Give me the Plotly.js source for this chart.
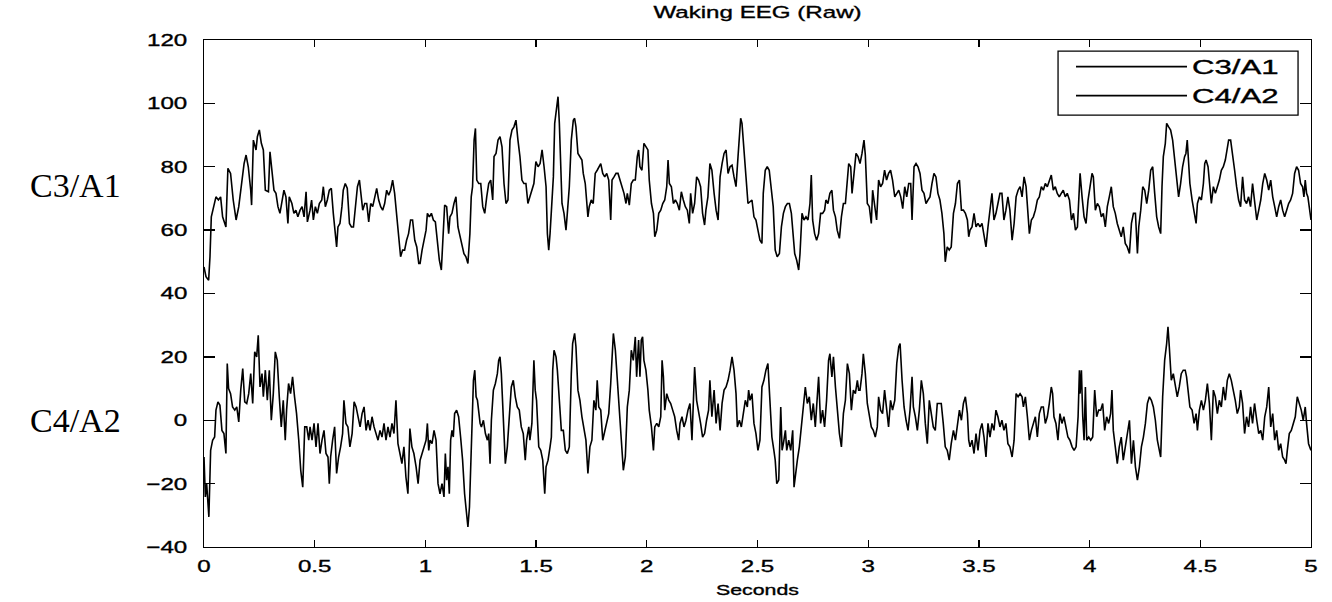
<!DOCTYPE html>
<html>
<head>
<meta charset="utf-8">
<script src="https://cdn.plot.ly/plotly-3.0.1.min.js"></script>
<style>
html,body{margin:0;padding:0;background:#fff;}
#chart{width:1332px;height:602px;}
</style>
</head>
<body>
<div id="chart"></div>
<script>
// Time (seconds) and amplitude of the C3/A1 channel
var tC3 = [
0,.009,.021,.027,.033,.045,.054,.065,.075,.084,.099,.108,.12,.132,.145,.157,.169,.181,.19,.2,.211,.215,.223,.235,.241,.25,.259,.268,.277,.291,.298,.307,.316,.325,.334,.343,.352,.361,.37,.379,.385,.397,.406,.415,.424,.434,.443,.452,.461,.467,
.479,.486,.494,.503,.512,.521,.532,.539,.548,.557,.566,.575,.584,.593,.599,.605,.614,.623,.629,.638,.647,.657,.666,.675,.684,.693,.702,.708,.717,.726,.735,.744,.753,.762,.771,.78,.789,.798,.807,.816,.825,.834,.843,.852,.861,.87,.879,.888,.897,.906,.915,.924,.933,.942,.952,.961,.97,
.976,.985,.994,1.003,1.009,1.018,1.027,1.036,1.045,1.054,1.063,1.072,1.081,1.087,1.096,1.105,1.111,1.12,1.129,1.138,1.147,1.156,1.165,1.174,1.183,1.192,1.201,1.207,1.213,1.22,1.226,1.232,1.241,1.25,1.259,1.268,1.277,1.286,1.295,1.304,1.31,1.319,1.328,1.337,1.346,1.355,1.364,1.373,1.382,1.391,1.4,1.409,1.418,1.427,1.436,1.445,1.454,1.463,
1.472,1.481,1.49,1.499,1.509,1.518,1.527,1.536,1.545,1.551,1.557,1.563,1.572,1.578,1.584,1.593,1.599,1.605,1.611,1.617,1.626,1.635,1.641,1.65,1.659,1.668,1.674,1.68,1.689,1.698,1.707,1.713,1.722,1.728,1.734,1.74,1.749,1.758,1.767,1.776,1.786,1.792,1.801,1.81,1.819,1.828,1.837,1.843,1.852,1.861,1.87,1.879,1.888,1.897,1.906,1.912,1.921,1.93,1.939,1.948,1.957,1.963,
1.969,1.978,1.987,1.996,2.005,2.011,2.021,2.03,2.036,2.045,2.054,2.063,2.072,2.081,2.09,2.096,2.102,2.111,2.12,2.129,2.138,2.147,2.156,2.165,2.174,2.183,2.192,2.198,2.207,2.216,2.225,2.234,2.243,2.252,2.261,2.267,2.276,2.285,2.294,2.304,2.313,2.322,2.331,2.34,2.349,2.358,2.367,2.376,2.385,2.394,2.403,2.412,2.418,2.424,2.43,2.439,2.448,2.457,
2.466,2.475,2.484,2.493,2.502,2.511,2.52,2.526,2.535,2.544,2.553,2.562,2.571,2.58,2.589,2.599,2.608,2.617,2.626,2.635,2.644,2.653,2.659,2.668,2.677,2.686,2.692,2.701,2.71,2.719,2.728,2.737,2.743,2.749,2.758,2.767,2.776,2.785,2.794,2.803,2.809,2.818,2.827,2.836,2.843,2.852,2.86,2.87,2.879,2.888,2.897,2.906,2.912,2.921,2.927,2.936,2.945,2.954,
2.963,2.972,2.981,2.987,2.996,3.005,3.014,3.02,3.029,3.038,3.047,3.056,3.065,3.074,3.083,3.092,3.101,3.11,3.12,3.129,3.138,3.147,3.156,3.165,3.174,3.183,3.192,3.198,3.207,3.216,3.225,3.234,3.243,3.252,3.261,3.27,3.279,3.288,3.297,3.306,3.315,3.324,3.333,3.342,3.348,3.357,3.366,3.375,3.385,3.394,3.403,3.412,3.421,3.43,3.439,3.448,3.454,
3.46,3.469,3.478,3.487,3.496,3.505,3.514,3.523,3.532,3.541,3.55,3.559,3.568,3.577,3.586,3.595,3.604,3.613,3.622,3.631,3.64,3.65,3.659,3.668,3.677,3.686,3.695,3.704,3.713,3.722,3.728,3.737,3.746,3.755,3.764,3.773,3.782,3.791,3.8,3.809,3.818,3.827,3.836,3.845,3.854,3.863,3.872,3.881,3.89,3.899,3.909,3.918,3.927,3.936,3.945,3.951,
3.957,3.966,3.975,3.984,3.993,4.002,4.011,4.017,4.026,4.035,4.044,4.053,4.062,4.071,4.08,4.089,4.098,4.107,4.116,4.125,4.134,4.143,4.152,4.161,4.17,4.18,4.189,4.198,4.207,4.216,4.222,4.231,4.24,4.249,4.258,4.267,4.276,4.285,4.294,4.303,4.312,4.321,4.327,4.333,4.342,4.348,4.357,4.366,4.375,4.384,4.393,4.402,4.411,4.42,4.429,4.435,4.441,4.447,
4.453,4.463,4.472,4.481,4.487,4.496,4.505,4.514,4.52,4.526,4.535,4.544,4.55,4.559,4.568,4.577,4.586,4.595,4.604,4.613,4.622,4.628,4.637,4.646,4.655,4.664,4.673,4.682,4.691,4.7,4.709,4.718,4.727,4.736,4.745,4.755,4.764,4.773,4.782,4.791,4.8,4.809,4.818,4.827,4.836,4.845,4.854,4.863,4.872,4.881,4.89,4.899,4.908,4.917,4.926,4.935,4.944,4.953,4.962,4.968,4.974,4.98,4.986,4.993,5
];
var vC3 = [
48.4,45.3,44.2,51.6,64.2,68.4,70.5,69.5,70.5,64.2,61,79.5,77.9,69.5,63.2,67.4,73.7,81,83.7,80,72.6,67.9,88.4,85.3,89.5,91.6,87.4,85.3,72.6,72.1,84.7,79,72.6,71.6,67.4,65.3,69.5,72.6,70.5,62.1,70.5,68.4,65.3,66.3,64.2,66.3,67.4,64.2,72.1,62.6,
66.3,69.5,63.2,67.4,65.3,68.4,69.5,73.7,67.4,69.5,72.6,73.2,65.3,58.9,54.7,61,62.1,67.4,72.6,74.7,73.2,62.1,61,61,68.4,73.7,75.8,71.6,66.3,68.4,68.4,62.6,68.4,67.4,70.5,73.2,69.5,67.4,66.3,68.4,72.6,71,72.6,75.8,71.6,65.3,57.9,51.6,53.7,53.7,56.8,58.9,63.2,63.2,56.8,54.7,49.5,
49.5,53.7,56.8,60,65.3,64.2,65.3,63.2,62.6,55.8,50.5,47.4,61,67.9,67.4,58.9,64.2,65.3,68.4,70.5,61,57.9,55.8,52.6,51.6,49.5,58.9,70.5,73.7,88.4,92.1,75.8,74.7,74.7,67.4,65.3,70.5,74.7,75.8,69.5,83.2,84.2,88.4,89.5,86.3,74.7,68.4,69.5,88.4,91.6,92.6,94.7,88.4,83.2,75.8,74.7,74.7,68.4,
70.5,72.6,74.7,81.6,80,81,85.3,80,73.7,58.9,53.7,58.9,69.5,76.8,93.7,100,102.1,93.7,83.2,68.4,65.3,60,65.3,73.7,88.4,94.7,95.3,92.6,84.2,83.2,82.1,77.9,74.7,69.5,64.2,67.4,69.5,68.4,77.9,78.9,80,81,77.9,76.8,77.9,75.8,63.2,75.8,76.8,77.9,77.9,75.8,73.7,71.6,68.4,71.6,67.9,74.7,75.8,75.8,83.2,85.3,
80,78.9,87.4,86.3,85.3,75.8,68.4,65.3,57.9,60,65.3,66.3,68.4,69.5,73.7,82.1,74.7,73.7,68.4,69.5,68.4,66.3,72.1,69.5,67.4,66.3,62.1,71.6,65.3,68.4,76.8,75.8,73.7,65.3,61.6,66.3,70.5,81,78.9,71.6,66.3,63.2,76.8,81,84.2,85.3,77.9,80,80.5,76.8,73.7,83.2,90.5,95.3,93.7,86.3,76.8,68.4,
68.9,69.5,64.2,63.2,60,56.8,55.8,71.6,78.9,80,78.9,72.6,67.4,53.7,51.6,52.6,61,65.3,67.4,68.4,68.4,65.3,60,52.6,50.5,47.4,52.6,65.3,63.2,64.2,63.2,68.4,77.4,63.2,58.9,56.8,58.9,65.3,65.3,66.3,69.5,68.4,71.6,72.6,66.3,64.2,60,57.4,64.2,68.4,68.4,75.8,81,80,71.6,77.9,84.2,83.2,
81,84.2,88.4,83.7,68.4,67.4,62.1,72.6,67.4,63.2,75.8,73.7,74.7,78.9,75.8,77.9,78.9,75.8,70.5,71.6,72.6,70.5,66.8,73.7,70.5,74.7,74.7,63.2,80,81,80,77.9,72.6,71.6,68.4,69.5,70.5,74.7,77.9,76.8,71.6,69.5,65.3,58.9,50,54.7,53.7,54.7,65.3,68.4,74.7,75.8,66.3,66.3,65.3,63.2,57.9,
60,61,65.3,61,62.1,61,62.1,58.9,54.7,61,67.4,71.6,63.2,65.3,68.4,71.6,71.6,63.2,66.3,70.5,66.3,56.8,62.1,70.5,72.6,73.7,70.5,76.8,73.7,63.2,58.9,63.2,64.2,66.3,69.5,70.5,73.7,72.6,74.7,73.7,75.8,77.4,72.6,73.7,71.6,70.5,71.6,72.6,70.5,71.6,69.5,63.2,65.3,60,61,71.6,
77.9,70.5,64.2,62.1,69.5,73.7,77.9,76.8,66.3,68.4,67.4,64.2,65.3,61,67.4,70.5,73.7,67.4,65.3,62.1,60,57.9,61,55.8,54.7,52.6,62.1,65.3,65.3,52.6,61,66.3,73.7,72.6,68.4,72.6,78.9,80,71.6,64.2,61,58.9,73.7,83.2,87.4,93.7,92.6,91.6,88.4,82.1,75.8,70.5,74.7,80,83.2,84.2,88.4,81,
74.7,69.5,66.3,62.1,68.4,70.5,69.5,74.7,81,82.1,80,72.6,68.4,73.7,71.6,73.7,75.8,78.9,80,82.1,85.3,88.4,88.4,84.2,78.9,73.7,69.5,67.4,76.8,69.5,68.4,70.5,67.4,74.7,68.4,63.2,66.3,69.5,74.7,77.9,75.8,72.6,75.8,70.5,67.4,64.2,67.4,69.5,66.3,64.2,66.3,68.4,69.5,71.6,77.9,80,78.9,74.7,73.7,70.5,75.8,71.6,70.5,67.4,63.2
];
// Time (seconds) and amplitude of the C4/A2 channel
var tC4 = [
0,.006,.012,.018,.022,.03,.039,.048,.054,.063,.072,.081,.09,.099,.105,.111,.12,.129,.139,.148,.157,.166,.175,.184,.193,.202,.211,.22,.229,.238,.245,.253,.262,.268,.277,.286,.295,.304,.313,.322,.331,.34,.349,.358,.367,.373,.382,.391,.4,.409,.418,.428,.437,.446,.455,.464,.473,
.479,.488,.497,.506,.515,.524,.533,.542,.551,.56,.566,.572,.581,.59,.599,.608,.617,.626,.632,.641,.65,.659,.669,.678,.687,.696,.705,.714,.723,.732,.741,.75,.759,.768,.777,.786,.795,.804,.813,.822,.831,.84,.849,.858,.867,.876,.885,.894,.903,.912,.921,.93,.939,.948,.958,.967,
.976,.985,.994,1.003,1.009,1.015,1.021,1.03,1.039,1.048,1.057,1.066,1.075,1.084,1.09,1.096,1.102,1.108,1.114,1.12,1.126,1.132,1.141,1.15,1.159,1.168,1.177,1.186,1.192,1.199,1.205,1.211,1.217,1.223,1.229,1.235,1.241,1.247,1.253,1.262,1.271,1.28,1.286,1.292,1.298,1.307,1.316,1.325,1.331,1.337,1.343,1.352,1.361,1.37,1.379,1.388,1.397,1.406,1.415,1.424,1.433,1.442,1.451,1.457,1.467,
1.472,1.481,1.49,1.496,1.502,1.512,1.521,1.53,1.539,1.545,1.554,1.563,1.569,1.575,1.581,1.59,1.596,1.605,1.614,1.623,1.632,1.641,1.65,1.659,1.665,1.674,1.68,1.689,1.698,1.707,1.716,1.725,1.734,1.743,1.752,1.761,1.77,1.776,1.783,1.792,1.801,1.81,1.819,1.828,1.837,1.843,1.849,1.858,1.867,1.876,1.885,1.894,1.903,1.912,1.921,1.93,1.939,1.948,1.954,1.963,
1.969,1.975,1.981,1.987,1.996,2.005,2.011,2.021,2.03,2.036,2.045,2.054,2.063,2.069,2.075,2.081,2.09,2.099,2.108,2.117,2.126,2.135,2.144,2.15,2.159,2.168,2.177,2.186,2.195,2.204,2.21,2.216,2.225,2.234,2.243,2.252,2.261,2.27,2.279,2.285,2.294,2.304,2.313,2.322,2.331,2.34,2.349,2.358,2.367,2.376,2.385,2.394,2.403,2.409,2.418,2.427,2.436,2.445,2.454,2.46,
2.466,2.475,2.484,2.493,2.502,2.511,2.52,2.529,2.538,2.547,2.556,2.565,2.574,2.58,2.587,2.596,2.605,2.611,2.617,2.626,2.632,2.641,2.65,2.659,2.665,2.671,2.68,2.689,2.698,2.707,2.716,2.725,2.734,2.743,2.752,2.761,2.767,2.776,2.785,2.794,2.803,2.812,2.821,2.827,2.836,2.843,2.852,2.86,2.87,2.879,2.888,2.897,2.906,2.915,2.924,2.933,2.942,2.951,2.957,
2.963,2.972,2.978,2.987,2.996,3.005,3.014,3.023,3.032,3.041,3.047,3.056,3.065,3.074,3.083,3.092,3.101,3.11,3.12,3.129,3.138,3.144,3.153,3.162,3.171,3.18,3.189,3.198,3.204,3.213,3.222,3.231,3.24,3.249,3.258,3.267,3.276,3.285,3.294,3.303,3.312,3.321,3.33,3.339,3.348,3.357,3.366,3.375,3.385,3.394,3.403,3.412,3.421,3.43,3.439,3.448,3.454,
3.46,3.469,3.478,3.487,3.496,3.505,3.514,3.523,3.532,3.541,3.55,3.559,3.568,3.577,3.586,3.595,3.604,3.613,3.622,3.631,3.64,3.65,3.659,3.668,3.677,3.686,3.695,3.701,3.71,3.719,3.728,3.737,3.746,3.755,3.764,3.773,3.782,3.791,3.8,3.809,3.818,3.827,3.833,3.839,3.848,3.857,3.866,3.875,3.884,3.893,3.902,3.911,3.921,3.93,3.939,3.948,3.954,
3.957,3.963,3.969,3.975,3.981,3.987,3.996,4.005,4.014,4.023,4.032,4.041,4.05,4.059,4.068,4.077,4.086,4.095,4.101,4.107,4.116,4.125,4.134,4.143,4.152,4.161,4.17,4.18,4.189,4.198,4.207,4.216,4.225,4.234,4.243,4.252,4.261,4.27,4.279,4.288,4.297,4.306,4.315,4.321,4.33,4.339,4.348,4.354,4.36,4.369,4.378,4.387,4.396,4.405,4.414,4.423,4.432,4.438,4.447,
4.453,4.463,4.472,4.481,4.487,4.496,4.505,4.514,4.523,4.532,4.541,4.55,4.559,4.568,4.577,4.586,4.595,4.604,4.613,4.622,4.631,4.64,4.649,4.658,4.667,4.676,4.682,4.691,4.7,4.709,4.718,4.727,4.736,4.745,4.755,4.764,4.773,4.782,4.791,4.8,4.809,4.818,4.827,4.836,4.845,4.854,4.863,4.872,4.881,4.887,4.893,4.902,4.911,4.92,4.929,4.938,4.947,4.956,4.965,4.974,4.98,4.989,5
];
var vC4 = [
-11.6,-24.2,-20,-25.3,-30.5,-9.5,-6.3,-5.3,3.2,5.8,4.7,-3.2,-4.2,-10.5,17.9,10,8.4,4.2,3.2,4.2,-0.5,9.5,16.3,5.8,5.3,8.4,14.7,5.3,21.6,20,26.8,10.5,14.7,7.4,15.8,6.3,15.8,0,8.4,21.6,18.9,7.4,-2.1,6.3,-6.3,3.2,11.6,8.4,13.7,7.4,2.1,-6.3,-15.8,-21.1,-2.1,-2.1,-6.3,
-2.1,-6.3,-1,-8.4,-1,-10.5,-6.3,-3.2,-10.5,-11.6,-20,-11.6,-6.3,-2.1,-16.8,-11.6,-8.4,-4.2,6.3,-1,-2.1,-8.4,-4.2,5.8,4.2,1.1,-2.1,2.1,4.2,-3.2,0,-3.2,1.1,-2.1,-4.2,-6.3,-3.2,-5.3,-1,-6.3,-2.1,-5.3,-1,-4.2,6.3,-7.4,-10.5,-13.7,-8.4,-17.9,-23.2,-2.6,-8.4,-10.5,-14.7,-20,
-12.6,-10.5,-8.4,-6.3,-1,-9.5,-6.3,-7.4,-3.2,-6.3,-20,-23.2,-20,-24.2,-10.5,-18.9,-14.7,-23.2,-6.3,-3.2,-5.3,2.1,3.2,1.1,-5.3,-12.6,-23.2,-29.5,-33.7,-27.4,-14.7,0,12.6,15.8,7.4,6.3,3.2,-1,-2.1,0,-4.2,-6.3,-4.2,-13.7,0,9.5,11.6,14.7,18.9,20,14.7,-1,-13.7,-8.4,2.1,10.5,12.6,7.4,4.2,3.2,-2.1,-4.2,-12.6,-6.3,-2.1,
-6.3,-1,18.9,9.5,6.3,-8.4,-9.5,-12.6,-23.2,-14.7,-12.6,-8.4,-5.3,15.8,22.1,20,15.8,6.3,-3.2,-3.2,-9.5,-10.5,-8.4,14.7,24.2,27.4,23.2,9.5,6.3,1.1,-2.1,-6.3,-16.8,-8.4,-6.3,6.3,3.2,12.6,4.2,3.2,-6.3,-3.2,-1,2.1,11.6,21,27.4,22.1,13.7,4.2,-6.3,-15.8,-11.6,4.2,9.5,22.1,18.9,26.3,13.7,25.3,
13.7,25.3,26.3,18.9,15.8,9.5,3.2,-2.1,-9.5,-2.1,-1,-2.1,1.1,18.9,13.7,3.2,8.4,6.3,5.3,3.2,1.1,-3.2,-6.3,-1,1.1,-2.1,0,3.2,5.3,-6.3,8.4,16.8,6.3,3.2,-1,-5.3,-4.2,0,3.2,12.6,1.1,9.5,-1,5.3,-3.2,5.3,9.5,10.5,12.6,15.8,20,15.8,8.4,-2.1,0,-2.1,2.1,6.3,4.2,9.5,
6.3,8.4,-1,-4.2,-9.5,-6.3,10.5,12.6,15.8,17.9,6.3,-5.3,-9.5,-12.6,-20,-18.9,4.2,-9.5,-7.4,-3.2,-9.5,-6.3,-9.5,-3.2,-21.1,-16.8,-12.6,-8.4,-2.1,6.3,10.5,5.3,7.4,0,5.3,-2.1,5.3,13.7,-1,3.2,-2.1,6.3,18.9,21,13.7,20,10.5,4.2,-4.2,-8.4,2.1,6.3,17.9,14.7,3.2,9.5,8.4,12.6,9.5,
9.5,14.7,21,14.7,5.3,1.1,-2.1,-3.2,-5.3,-2.1,7.4,3.2,2.1,9.5,3.2,-2.1,6.3,3.2,6.3,17.9,23.2,24.2,12.6,4.2,0,-3.2,3.2,13.7,4.2,1.1,-3.2,3.2,12.6,8.4,-1,-7.4,6.3,2.1,-2.1,-3.2,5.3,5.3,5.3,-1,-8.4,-9.5,-12.6,-7.4,-3.2,-6.3,-1,3.2,0,5.3,7.4,2.1,-6.3,
-8.4,-6.3,-10.5,-4.2,-9.5,-3.2,-1,-5.3,-11.6,-1,-5.3,-1,-3.2,3.2,1.1,-2.1,0,-3.2,-1,-7.4,-8.4,-11.6,-6.3,8.4,7.4,8.4,7.4,4.2,7.4,1.1,-6.3,-3.2,-1,1.1,-5.3,2.1,4.2,4.2,-1,1.1,5.3,10.5,8.4,1.1,-1,-6.3,2.1,-1,1.1,-2.1,-5.3,-6.3,-8.4,-9.5,-8.4,1.1,15.8,
8.4,15.8,1.1,-6.3,10.5,-6.3,-5.3,-6.3,-5.3,9.5,1.1,3.2,3.2,5.3,-3.2,1.1,-1,2.1,9.5,-3.2,-8.4,-13.7,-8.4,-5.3,-12.6,-8.4,-4.2,0,-13.7,-6.3,-14.7,-18.9,-14.7,-8.4,-5.3,-1,5.3,7.4,6.3,4.2,0,-6.3,-9.5,-11.6,7.4,18.9,24.2,29.5,23.2,12.6,14.7,10.5,7.4,10.5,14.7,15.8,15.8,13.7,8.4,
4.2,3.2,-1,2.1,-3.2,3.2,6.3,3.2,6.3,11.6,5.3,-6.3,9.5,7.4,2.1,6.3,4.2,10.5,6.3,12.6,14.7,12.6,9.5,6.3,2.1,4.2,9.5,5.3,-4.2,1.1,-2.1,4.2,-1,5.3,0,-4.2,-3.2,-6.3,1.1,4.2,10.5,-2.1,2.1,-6.3,-3.2,-9.5,-7.4,-11.6,-12.6,-13.7,-9.5,-4.2,-3.2,-1,1.1,7.4,5.3,3.2,0,4.2,-1,-7.4,-9.5
];

var seriesNames = ['C3/A1', 'C4/A2'];
var titleText = 'Waking EEG (Raw)';
var xTitle = 'Seconds';
var xTicks = [0, 0.5, 1, 1.5, 2, 2.5, 3, 3.5, 4, 4.5, 5];
var xTickText = ['0', '0.5', '1', '1.5', '2', '2.5', '3', '3.5', '4', '4.5', '5'];
var yTicks = [-40, -20, 0, 20, 40, 60, 80, 100, 120];
var sideLabels = [{text: 'C3/A1', y: 74}, {text: 'C4/A2', y: 0}];

var lineStyle = {color: '#000000', width: 1.6};
var traces = [
  {x: tC3, y: vC3, name: seriesNames[0], type: 'scatter', mode: 'lines', line: lineStyle},
  {x: tC4, y: vC4, name: seriesNames[1], type: 'scatter', mode: 'lines', line: lineStyle}
];

var SANS = 'Liberation Sans, Arial, sans-serif';
var tickFont = {family: SANS, size: 17, color: '#000'};
var axisCommon = {
  showline: true, linecolor: '#000', linewidth: 1.3, mirror: 'ticks',
  ticks: 'inside', tickwidth: 1.3, tickcolor: '#000',
  showgrid: false, zeroline: false, tickfont: tickFont
};

var layout = {
  width: 1332, height: 602,
  margin: {l: 204, r: 21, t: 40, b: 55},
  paper_bgcolor: '#fff', plot_bgcolor: '#fff',
  showlegend: true,
  title: {text: titleText, font: {family: SANS, size: 17, color: '#000'},
          x: 0.5, xref: 'paper', xanchor: 'center', y: 0.99, yref: 'container', yanchor: 'top'},
  xaxis: Object.assign({}, axisCommon, {
    range: [0, 5], tickvals: xTicks, ticktext: xTickText, ticklen: 7,
    title: {text: xTitle, font: {family: SANS, size: 15, color: '#000'}, standoff: 9},
    ticklabelstandoff: 3
  }),
  yaxis: Object.assign({}, axisCommon, {
    range: [-40, 120], tickvals: yTicks, ticklen: 11, ticklabelstandoff: 12
  }),
  legend: {
    x: 0.7832, y: 0.986, xanchor: 'left', yanchor: 'top',
    bgcolor: 'rgba(0,0,0,0)', borderwidth: 0,
    font: {family: SANS, size: 20, color: '#000'},
    itemwidth: 111, tracegroupgap: 0
  },
  shapes: [{
    type: 'rect', xref: 'paper', yref: 'paper', layer: 'above',
    x0: 0.7715, x1: 0.9883, y0: 0.852, y1: 0.978,
    line: {color: '#000', width: 1.3}, fillcolor: '#fff'
  }],
  annotations: sideLabels.map(function (s) {
    return {text: s.text, xref: 'paper', yref: 'y', x: -0.116, y: s.y,
            xanchor: 'center', yanchor: 'middle', showarrow: false,
            font: {family: 'Liberation Serif', size: 34, color: '#000'}};
  })
};

// The original figure's sans-serif text is horizontally stretched and heavy; reproduce that.
var STRETCH = [
  {sel: 'text.gtitle, .xtick text, .ytick text, text.xtitle', k: 1.42},
  {sel: 'text.legendtext', k: 1.56}
];
function stretchTexts(gd) {
  STRETCH.forEach(function (group) {
    gd.querySelectorAll(group.sel).forEach(function (el) {
      var bb = el.getBBox();
      var anchor = el.getAttribute('text-anchor') || 'start';
      var ax = anchor === 'end' ? bb.x + bb.width : (anchor === 'middle' ? bb.x + bb.width / 2 : bb.x);
      var tr = el.getAttribute('transform') || '';
      el.setAttribute('transform', tr + ' translate(' + ax + ',0) scale(' + group.k + ',1) translate(' + (-ax) + ',0)');
      el.style.stroke = '#000';
      el.style.strokeWidth = '0.35px';
    });
  });
  // let the stretched legend labels show beyond Plotly's computed legend box
  gd.querySelectorAll('.legend [clip-path]').forEach(function (el) { el.removeAttribute('clip-path'); });
}

Plotly.newPlot('chart', traces, layout, {displayModeBar: false, staticPlot: true})
  .then(stretchTexts);
</script>
</body>
</html>
